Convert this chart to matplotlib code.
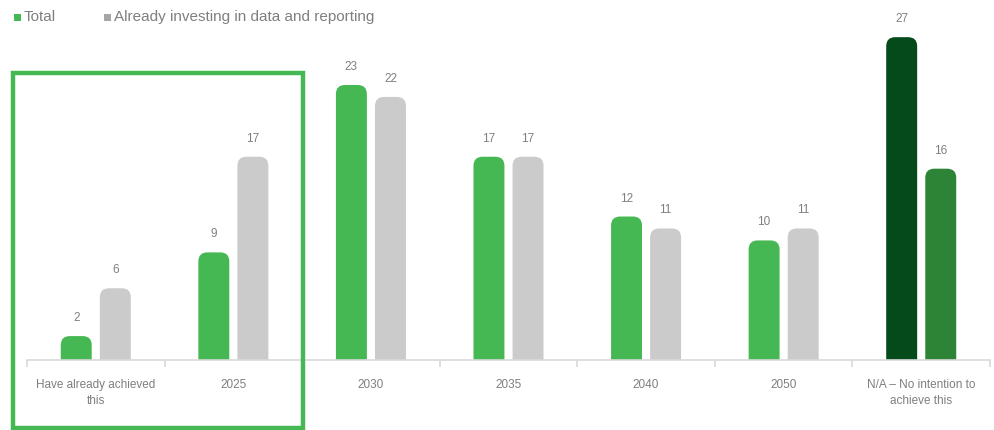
import matplotlib.pyplot as plt
from matplotlib.patches import FancyBboxPatch, Rectangle
import numpy as np

plt.rcParams['font.family'] = ['Liberation Sans', 'DejaVu Sans']

categories = ["Have already achieved\nthis", "2025", "2030", "2035", "2040", "2050",
              "N/A \u2013 No intention to\nachieve this"]
total = [2, 9, 23, 17, 12, 10, 27]
investing = [6, 17, 22, 17, 11, 11, 16]

GREEN = "#46b853"
GREY = "#cbcbcb"
DARK_GREEN = "#044a1a"
MID_GREEN = "#2e8436"
TEXT = "#7f7f7f"

W, H = 995, 430
fig = plt.figure(figsize=(W / 100, H / 100), dpi=100)
# axes in pixel terms: x 27..990, baseline at y=360, top at y=30
ax = fig.add_axes([27 / W, 70 / H, 963 / W, 330 / H])
ymax = 27.6
ax.set_xlim(-0.5, 6.5)
ax.set_ylim(0, ymax)

x = np.arange(len(categories))
off = 0.142
bw = 0.225
c1 = [GREEN] * 6 + [DARK_GREEN]
c2 = [GREY] * 6 + [MID_GREEN]
bars1 = ax.bar(x - off, total, bw, color=c1)
bars2 = ax.bar(x + off, investing, bw, color=c2)

# swap square bars for ones with rounded tops
px_x = 963 / 7.0
px_y = 330 / ymax
r_px = 9
aspect = px_x / px_y
for b in list(bars1) + list(bars2):
    x0, w, h = b.get_x(), b.get_width(), b.get_height()
    fc = b.get_facecolor()
    b.remove()
    pad = r_px / px_y
    p = FancyBboxPatch((x0, -pad), w, h + pad,
                       boxstyle="round,pad=0,rounding_size=%f" % (r_px / px_x),
                       mutation_aspect=aspect, fc=fc, ec="none", clip_on=True)
    ax.add_patch(p)
    ax.text(x0 + w / 2, h + 12 / px_y, str(int(round(h))), ha="center", va="bottom",
            fontsize=8.5, color=TEXT)

for s in ["top", "right", "left"]:
    ax.spines[s].set_visible(False)
ax.spines["bottom"].set_color("#d9d9d9")
ax.spines["bottom"].set_linewidth(1.2)
ax.set_yticks([])
ax.set_xticks(x)
ax.set_xticklabels(categories, fontsize=8.5, color=TEXT, linespacing=1.45)
ax.tick_params(axis="x", length=0, pad=14)
ax.set_xticks(np.arange(-0.5, 7.0, 1.0), minor=True)
ax.tick_params(axis="x", which="minor", length=5, color="#d9d9d9", width=1.2)

# legend
fig.patches.append(Rectangle((14 / W, 1 - 21 / H), 7 / W, 7 / H, transform=fig.transFigure,
                             fc=GREEN, ec="none"))
fig.text(24 / W, 1 - 17 / H, "Total", fontsize=11, color=TEXT, va="center")
fig.patches.append(Rectangle((104 / W, 1 - 21 / H), 7 / W, 7 / H, transform=fig.transFigure,
                             fc="#a6a6a6", ec="none"))
fig.text(114 / W, 1 - 17 / H, "Already investing in data and reporting", fontsize=11,
         color=TEXT, va="center")

# highlight box around the first two groups
fig.patches.append(Rectangle((13 / W, 1 - 428 / H), 290 / W, 355 / H, transform=fig.transFigure,
                             fc="none", ec=GREEN, lw=3.2))

fig.savefig("out.png", dpi=100)
